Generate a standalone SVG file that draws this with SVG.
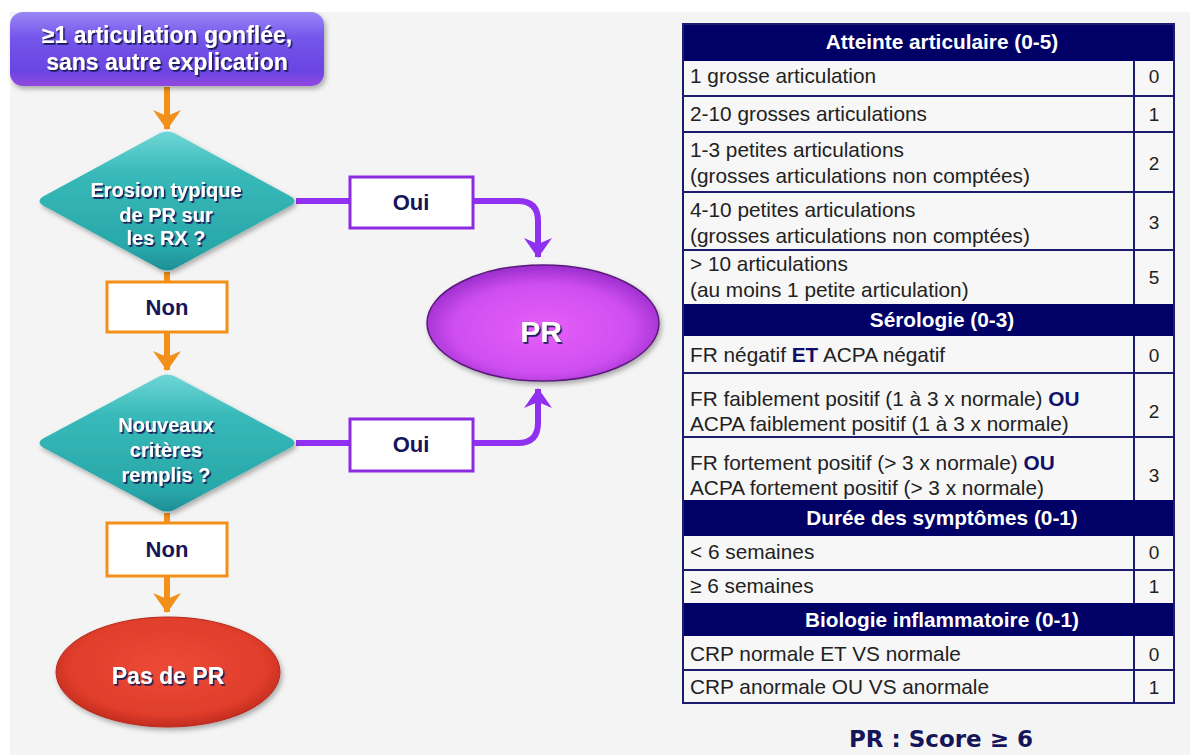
<svg xmlns="http://www.w3.org/2000/svg" width="1190" height="755" viewBox="0 0 1190 755">
<style>
.flow{font-family:"Liberation Sans",Arial,sans-serif;font-weight:bold;fill:#ffffff;text-anchor:middle}
.lbl{font-family:"Liberation Sans",Arial,sans-serif;font-weight:bold;fill:#15155a;text-anchor:middle;font-size:22px}
.cell{font-family:"Liberation Sans",Arial,sans-serif;font-size:20.8px;fill:#222222}
.num{font-family:"Liberation Sans",Arial,sans-serif;font-size:19px;fill:#222222;text-anchor:middle}
.hdr{font-family:"Liberation Sans",Arial,sans-serif;font-size:20.8px;font-weight:bold;fill:#ffffff;text-anchor:middle}
.hdrbg{fill:#000066}
.b{font-weight:bold;fill:#10106a}
.grid{stroke:#1c1c70;stroke-width:2;fill:none}
.orange{fill:none;stroke:#f39019;stroke-width:6}
.purple{fill:none;stroke:#9030f0;stroke-width:6}
.obox{fill:#ffffff;stroke:#f39019;stroke-width:3}
.pbox{fill:#ffffff;stroke:#8a2be2;stroke-width:3}
</style>
<defs>
<filter id="ts" x="-10%" y="-20%" width="130%" height="150%">
<feDropShadow dx="1.6" dy="1.8" stdDeviation="0.4" flood-color="#1a1a5a" flood-opacity="1"/>
</filter>
<filter id="sh" x="-10%" y="-10%" width="130%" height="140%">
<feDropShadow dx="2" dy="3" stdDeviation="2.5" flood-color="#000000" flood-opacity="0.3"/>
</filter>
<linearGradient id="gStart" x1="0" y1="0" x2="0" y2="1">
<stop offset="0" stop-color="#9a86f6"/>
<stop offset="0.35" stop-color="#7456ea"/>
<stop offset="0.8" stop-color="#6a44e2"/>
<stop offset="1" stop-color="#9448e0"/>
</linearGradient>
<linearGradient id="gDia" x1="0" y1="0" x2="0" y2="1">
<stop offset="0" stop-color="#6fd6d6"/>
<stop offset="0.3" stop-color="#38b9b9"/>
<stop offset="0.85" stop-color="#28a7a8"/>
<stop offset="1" stop-color="#1d8f96"/>
</linearGradient>
<radialGradient id="gPR" cx="0.5" cy="0.55" r="0.55">
<stop offset="0" stop-color="#e55ff8"/>
<stop offset="0.7" stop-color="#cf4ef0"/>
<stop offset="1" stop-color="#9a2ccc"/>
</radialGradient>
<radialGradient id="gRed" cx="0.5" cy="0.45" r="0.55">
<stop offset="0" stop-color="#ec4a36"/>
<stop offset="0.8" stop-color="#e03e2c"/>
<stop offset="1" stop-color="#c22b1f"/>
</radialGradient>
<marker id="aO" viewBox="0 0 20 28" refX="19" refY="14" markerWidth="20" markerHeight="28" markerUnits="userSpaceOnUse" orient="auto">
<path d="M0,0 L20,14 L0,28 L6,14 z" fill="#f39019"/>
</marker>
<marker id="aP" viewBox="0 0 20 28" refX="19" refY="14" markerWidth="20" markerHeight="28" markerUnits="userSpaceOnUse" orient="auto">
<path d="M0,0 L20,14 L0,28 L6,14 z" fill="#9030f0"/>
</marker>
</defs>

<rect x="10" y="12" width="1180" height="743" fill="#f4f4f4"/>

<g id="connectors">
<path class="orange" d="M167,87 V129" marker-end="url(#aO)"/>
<path class="orange" d="M167,272 V370" marker-end="url(#aO)"/>
<path class="orange" d="M167,513 V612" marker-end="url(#aO)"/>
<path class="purple" d="M296,201 H518 Q538,201 538,221 V257" marker-end="url(#aP)"/>
<path class="purple" d="M296,443 H518 Q538,443 538,423 V389" marker-end="url(#aP)"/>
</g>

<g id="start">
<rect x="10" y="12" width="314" height="74" rx="13" fill="url(#gStart)" filter="url(#sh)"/>
<text class="flow" font-size="23" filter="url(#ts)"><tspan x="167" y="43">≥1 articulation gonflée,</tspan><tspan x="167" y="70">sans autre explication</tspan></text>
</g>

<g id="decision1">
<path d="M160,133 Q167,130 174,133 L290,196 Q299,201 290,206 L174,269 Q167,272 160,269 L44,206 Q35,201 44,196 Z" fill="url(#gDia)" filter="url(#sh)"/>
<text class="flow" font-size="20" filter="url(#ts)"><tspan x="166" y="197">Erosion typique</tspan><tspan x="166" y="222">de PR sur</tspan><tspan x="166" y="245">les RX ?</tspan></text>
</g>

<g id="non1">
<rect class="obox" x="107" y="282" width="120" height="50"/>
<text class="lbl" x="167" y="315">Non</text>
</g>

<g id="decision2">
<path d="M160,376 Q167,373 174,376 L290,438 Q299,443 290,448 L174,510 Q167,513 160,510 L44,448 Q35,443 44,438 Z" fill="url(#gDia)" filter="url(#sh)"/>
<text class="flow" font-size="20" filter="url(#ts)"><tspan x="166" y="432">Nouveaux</tspan><tspan x="166" y="457">critères</tspan><tspan x="166" y="482">remplis ?</tspan></text>
</g>

<g id="non2">
<rect class="obox" x="107" y="523" width="120" height="53"/>
<text class="lbl" x="167" y="557">Non</text>
</g>

<g id="pasdepr">
<ellipse cx="168" cy="672" rx="112" ry="55" fill="url(#gRed)" stroke="#b52a1c" stroke-width="1" filter="url(#sh)"/>
<text class="flow" font-size="23" x="168" y="684" filter="url(#ts)">Pas de PR</text>
</g>

<g id="oui1">
<rect class="pbox" x="350" y="177" width="123" height="51"/>
<text class="lbl" x="411" y="210">Oui</text>
</g>

<g id="oui2">
<rect class="pbox" x="350" y="419" width="123" height="52"/>
<text class="lbl" x="411" y="452">Oui</text>
</g>

<g id="pr">
<ellipse cx="543" cy="323" rx="116" ry="58" fill="url(#gPR)" stroke="#5a1a7a" stroke-width="1.5" filter="url(#sh)"/>
<text class="flow" font-size="30" x="541" y="342" filter="url(#ts)">PR</text>
</g>

<g id="table">
<rect x="683" y="24" width="491" height="679" fill="#f7f7f7"/>
<rect class="hdrbg" x="683" y="24" width="491" height="37"/>
<rect class="hdrbg" x="683" y="304" width="491" height="32"/>
<rect class="hdrbg" x="683" y="500" width="491" height="36"/>
<rect class="hdrbg" x="683" y="603" width="491" height="33"/>
<path class="grid" d="M683,24 H1174 V703 H683 Z M683,96 H1174 M683,132 H1174 M683,192 H1174 M683,250 H1174 M683,373 H1174 M683,437 H1174 M683,570 H1174 M683,670 H1174 M1134,61 V304 M1134,336 V500 M1134,536 V603 M1134,636 V703"/>

<text class="hdr" x="942" y="49">Atteinte articulaire (0-5)</text>
<text class="cell" x="690" y="83">1 grosse articulation</text>
<text class="num" x="1154" y="83">0</text>
<text class="cell" x="690" y="121">2-10 grosses articulations</text>
<text class="num" x="1154" y="121">1</text>
<text class="cell"><tspan x="690" y="157">1-3 petites articulations</tspan><tspan x="690" y="183">(grosses articulations non comptées)</tspan></text>
<text class="num" x="1154" y="170">2</text>
<text class="cell"><tspan x="690" y="217">4-10 petites articulations</tspan><tspan x="690" y="243">(grosses articulations non comptées)</tspan></text>
<text class="num" x="1154" y="229">3</text>
<text class="cell"><tspan x="690" y="271">&gt; 10 articulations</tspan><tspan x="690" y="297">(au moins 1 petite articulation)</tspan></text>
<text class="num" x="1154" y="284">5</text>

<text class="hdr" x="942" y="327">Sérologie (0-3)</text>
<text class="cell" x="690" y="362">FR négatif <tspan class="b">ET</tspan> ACPA négatif</text>
<text class="num" x="1154" y="362">0</text>
<text class="cell"><tspan x="690" y="406">FR faiblement positif (1 à 3 x normale) <tspan class="b">OU</tspan></tspan><tspan x="690" y="431">ACPA faiblement positif (1 à 3 x normale)</tspan></text>
<text class="num" x="1154" y="418">2</text>
<text class="cell"><tspan x="690" y="470">FR fortement positif (&gt; 3 x normale) <tspan class="b">OU</tspan></tspan><tspan x="690" y="495">ACPA fortement positif (&gt; 3 x normale)</tspan></text>
<text class="num" x="1154" y="482">3</text>

<text class="hdr" x="942" y="525">Durée des symptômes (0-1)</text>
<text class="cell" x="690" y="559">&lt; 6 semaines</text>
<text class="num" x="1154" y="559">0</text>
<text class="cell" x="690" y="593">≥ 6 semaines</text>
<text class="num" x="1154" y="593">1</text>

<text class="hdr" x="942" y="627">Biologie inflammatoire (0-1)</text>
<text class="cell" x="690" y="661">CRP normale ET VS normale</text>
<text class="num" x="1154" y="661">0</text>
<text class="cell" x="690" y="694">CRP anormale OU VS anormale</text>
<text class="num" x="1154" y="694">1</text>
</g>

<g id="score">
<text x="941" y="747" font-family="'DejaVu Sans',Verdana,sans-serif" font-weight="bold" font-size="23" fill="#15155a" text-anchor="middle">PR : Score ≥ 6</text>
</g>
</svg>
